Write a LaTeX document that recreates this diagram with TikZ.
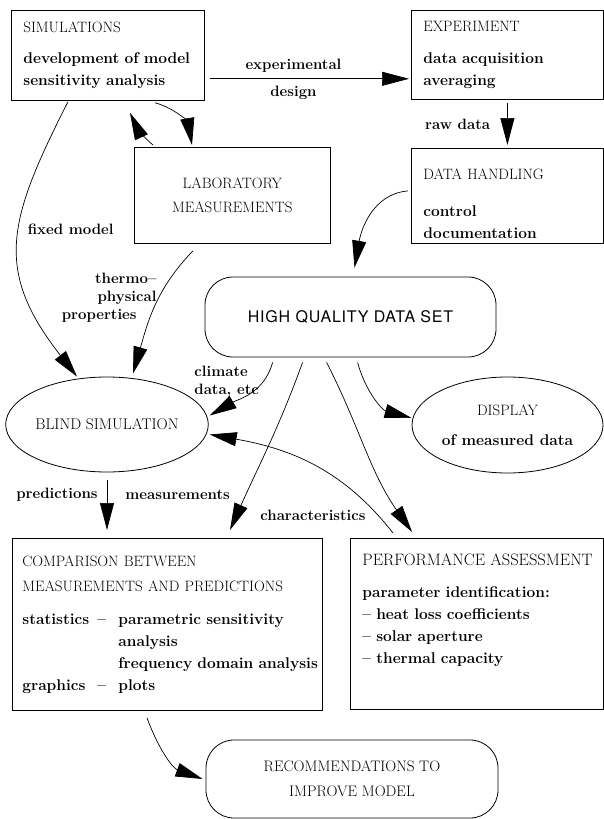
\documentclass[tikz,border=0pt]{standalone}
\usepackage{fontspec}
\newfontfamily\hqfont[LetterSpace=5]{TeX Gyre Heros}
\usetikzlibrary{arrows.meta,shapes.geometric}
\usetikzlibrary{calc,positioning}
\newcommand{\boxhead}[1]{{\mdseries\addfontfeatures{FakeBold=0.6}\fontsize{15}{22}\selectfont #1}}

\begin{document}
\begin{tikzpicture}[x=1pt,y=-1pt]
    \tikzstyle{blk} = [draw, rectangle, line width=0.8pt, anchor=north west, align=left, inner xsep=12pt, font=\fontsize{15.5}{22}\selectfont\bfseries]
    \tikzstyle{oval} = [draw, ellipse, line width=0.8pt, align=center, inner sep=0pt, font=\fontsize{15.5}{22}\selectfont\bfseries]
    \tikzstyle{rbox} = [draw, rectangle, rounded corners=28pt, line width=0.8pt, align=center]
    \tikzstyle{flow} = [line width=0.7pt, -{Triangle[length=27pt,width=14pt]}]
    \tikzstyle{lbl} = [font=\fontsize{15}{18}\selectfont\bfseries, inner sep=2pt]

    \useasboundingbox (0,0) rectangle (604,819);

    % Boxes .........................
	\node[blk, minimum width=193pt, minimum height=90pt, text width=169pt] (sim) at (11,10)
		{\boxhead{SIMULATIONS}\\[9pt]development of model\\sensitivity analysis};
	\node[blk, minimum width=192pt, minimum height=89pt, text width=168pt] (exp) at (411,10)
		{\boxhead{EXPERIMENT}\\[10pt]data acquisition\\averaging};
	\node[blk, minimum width=192pt, minimum height=95pt, text width=168pt] (dh) at (411,148)
		{\mbox{}\\[4pt]\boxhead{DATA HANDLING}\\[15pt]control\\documentation};
	\node[blk, minimum width=196pt, minimum height=96pt, text width=172pt, align=center,
		font=\fontsize{15}{24}\selectfont] (lab) at (134,147)
		{\boxhead{LABORATORY}\\\boxhead{MEASUREMENTS}};
	\node[rbox, minimum width=291pt, minimum height=80pt, font=\hqfont\fontsize{16}{20}\selectfont] (hq) at (350.5,317)
		{HIGH QUALITY DATA SET};
	\node[oval, minimum width=194pt, minimum height=95pt] (blind) at (107,424.5)
		{\boxhead{\fontsize{15.5}{22}\selectfont BLIND SIMULATION}};
	\node[oval, minimum width=191pt, minimum height=96pt] (disp) at (507.5,425)
		{\boxhead{DISPLAY}\\[8pt]of measured data};
	\node[blk, minimum width=310pt, minimum height=172pt, inner xsep=10pt, text width=290pt] (cmp) at (12,538)
		{\boxhead{COMPARISON BETWEEN}\\[3pt]\boxhead{MEASUREMENTS AND PREDICTIONS}\\[11pt]
		\makebox[75pt][l]{statistics}\makebox[21pt][l]{--}parametric sensitivity\\
		\hspace*{96pt}analysis\\
		\hspace*{96pt}\mbox{frequency domain analysis}\\
		\makebox[75pt][l]{graphics}\makebox[21pt][l]{--}plots};
	\node[blk, minimum width=253pt, minimum height=171pt, text width=229pt] (perf) at (350,538)
		{\boxhead{\fontsize{16.5}{22}\selectfont\mbox{PERFORMANCE ASSESSMENT}}\\[10pt]parameter identification:\\
		-- heat loss coefficients\\-- solar aperture\\-- thermal capacity\\[8pt]\mbox{}};
	\node[rbox, minimum width=292pt, minimum height=78pt, font=\fontsize{15.2}{25}\selectfont] (rec) at (352,779)
		{\boxhead{\fontsize{15.2}{25}\selectfont RECOMMENDATIONS TO}\\\boxhead{\fontsize{15.2}{25}\selectfont IMPROVE MODEL}};

    % Connectors .........................
	\draw[flow] ($(sim.south east)+(5,-22)$) -- node[lbl, above=4pt, pos=0.42] {experimental}
		node[lbl, below=5pt, pos=0.42] {design} ($(exp.south west)+(-2,-21)$);
	\draw[flow, shorten <=3pt, shorten >=3pt] (exp.south) -- node[lbl, left=15pt] {raw data} (dh.north);
	\draw[flow] ($(dh.west)+(-3,-5)$) to[out=185,in=80] ($(hq.north)+(4,-9)$);

	\draw[flow] ($(lab.north west)+(19,-2)$) to[out=140,in=-65] ($(sim.south west)+(119,12)$);
	\draw[flow] ($(sim.south west)+(144,2)$) to[out=-15,in=100] ($(lab.north west)+(58,-2)$);

	\draw[flow] ($(sim.south west)+(57,1)$) to[out=243,in=128,looseness=1.25]
		node[lbl, pos=0.44, right=6pt] {fixed model} ($(blind.north)+(-30,0)$);
	\draw[flow] ($(lab.south west)+(59,7)$) to[out=226,in=74]
		node[lbl, pos=0.42, anchor=east, align=right] {thermo--\\physical\hspace*{14pt}\\properties\hspace*{20pt}}
		($(blind.north)+(26,-3)$);
	\draw[flow] ($(hq.south west)+(68,5)$) to[out=255,in=30]
		node[lbl, pos=0.25, left=2pt, align=left] {climate\\data, etc} ($(blind.east)+(1,-9)$);
	\draw[flow] ($(perf.north west)+(43,-5)$) to[out=128,in=-10]
		node[lbl, pos=0.1, left=10pt] {characteristics} ($(blind.east)+(1,10)$);

	\draw[flow] ($(hq.south west)+(153,5)$) to[out=285,in=165] ($(disp.west)+(0,-7)$);
	\draw[flow] ($(hq.south west)+(98,5)$) to[out=250,in=66] ($(cmp.north west)+(218,-8)$);
	\draw[flow] ($(hq.south west)+(122,5)$) to[out=297,in=125] ($(perf.north west)+(62,-6)$);

	\draw[flow, shorten >=8pt] ($(blind.south)+(0,8)$) -- node[lbl, pos=0.25, left=7pt] {predictions}
		node[lbl, pos=0.25, right=16pt] {measurements} (blind.south |- cmp.north);
	\draw[flow] ($(cmp.south west)+(135,7)$) to[out=290,in=160] ($(rec.west)+(-3,0)$);

\end{tikzpicture}
\end{document}
